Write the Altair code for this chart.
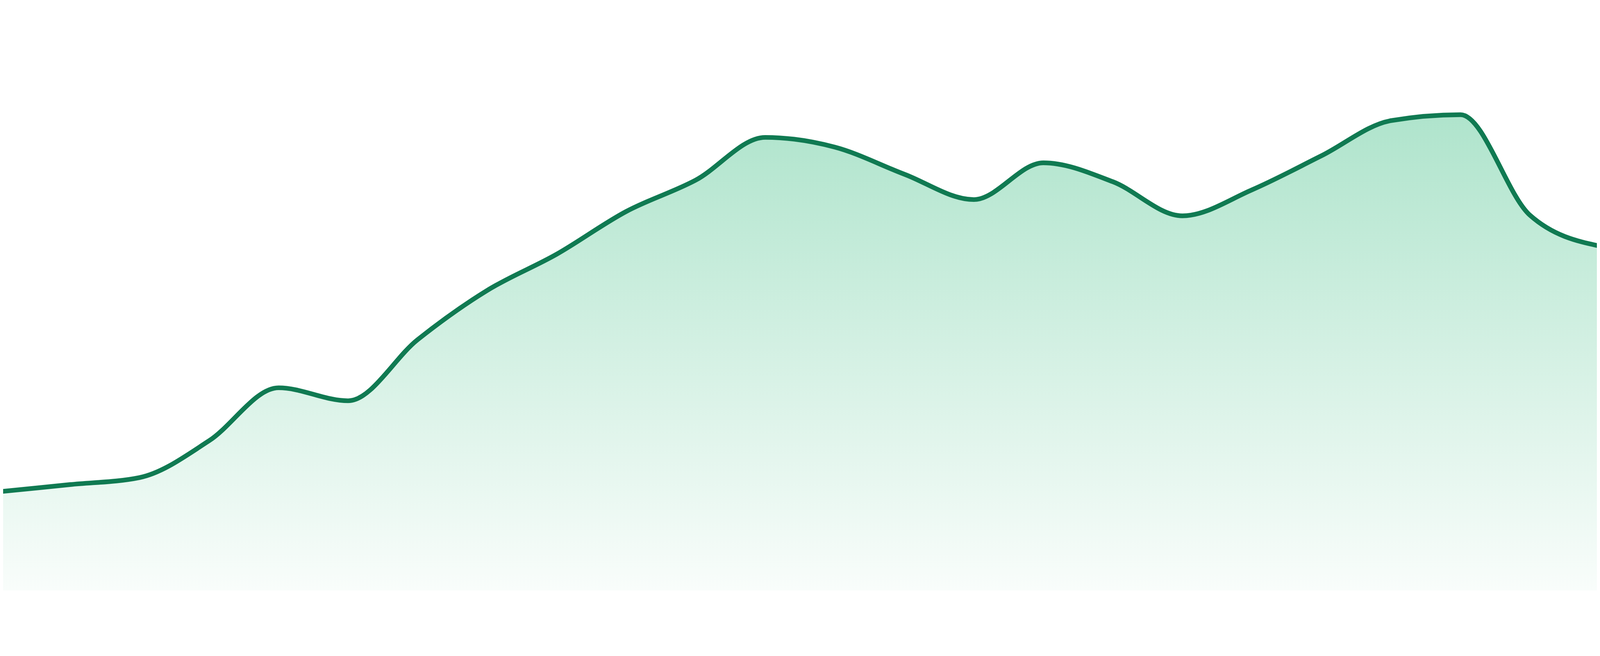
import altair as alt
import pandas as pd

# index of each sample (evenly spaced along the x axis)
points = list(range(24))
# series values (0-100 scale)
values = [18.3, 19.6, 20.9, 27.7, 37.5, 35.1, 46.4, 55.5, 62.2, 70.1, 75.9, 83.8,
          82.0, 77.0, 72.3, 79.1, 75.6, 69.3, 74.1, 80.4, 86.9, 88.0, 69.4, 63.7]

LINE_COLOR = "#107a52"
FILL_TOP = "#afe4cc"
FILL_BOTTOM = "#f9fdfb"

df = pd.DataFrame({"i": points, "v": values})

# x domain trimmed by the 8px page margin on both sides so the samples land
# where they do in the full-bleed reference
x_scale = alt.Scale(domain=[0.0383, 22.9617], nice=False, zero=False)
y_scale = alt.Scale(domain=[0, 100], nice=False, zero=True)

base = alt.Chart(df).encode(
    x=alt.X("i:Q", scale=x_scale, axis=None),
    y=alt.Y("v:Q", scale=y_scale, axis=None),
)

area = base.mark_area(
    interpolate="monotone",
    clip=True,
    fill=alt.Gradient(
        gradient="linear",
        x1=0, y1=0, x2=0, y2=1,
        stops=[
            alt.GradientStop(color=FILL_TOP, offset=0),
            alt.GradientStop(color=FILL_BOTTOM, offset=1),
        ],
    ),
)

line = base.mark_line(
    interpolate="monotone",
    clip=True,
    color=LINE_COLOR,
    strokeWidth=14,
)

chart = (
    alt.layer(area, line)
    .properties(width=4784, height=1624, padding=0, background="white")
    .configure_view(stroke=None)
)

chart.save("out.html", embed_options={"renderer": "svg", "actions": False})
